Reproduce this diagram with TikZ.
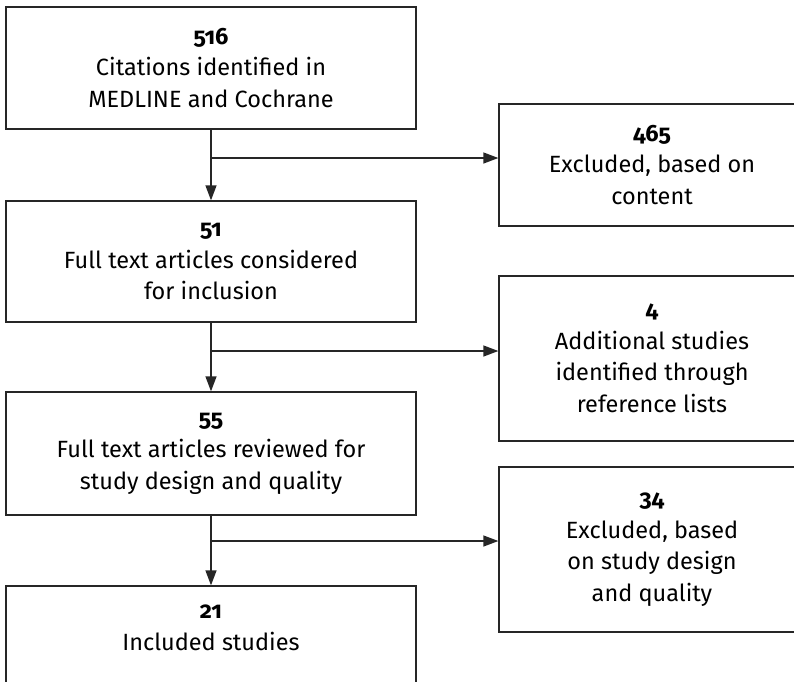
\documentclass[tikz,border=0pt]{standalone}
\usepackage{fontspec}
\setmainfont{Fira Sans}[Numbers=OldStyle]
\usetikzlibrary{arrows.meta}
\begin{document}
\begin{tikzpicture}[x=1pt,y=-1pt,
  box/.style={draw=black!85, line width=1.3pt, minimum width=410pt, minimum height=122pt,
    align=center, inner sep=0pt, font=\fontsize{23.5}{31.5}\selectfont},
  side/.style={box, minimum width=306pt},
  txt/.style={align=center, inner sep=0pt, font=\fontsize{23.5}{31.5}\selectfont},
  arr/.style={draw=black!85, line width=1.3pt, -{Triangle[length=15pt,width=11pt]}}]
\useasboundingbox (0,0) rectangle (794,681);
\clip (0,0) rectangle (794,681);
\node[box] (b1) at (211,68) {\textbf{516}\\Citations identified in\\MEDLINE and Cochrane};
\node[box, minimum height=121pt] (b2) at (211,261.5) {\textbf{51}\\Full text articles considered\\for inclusion};
\node[box, minimum height=123pt] (b3) at (211,453.5) {\textbf{55}\\Full text articles reviewed for\\study design and quality};
\node[box, minimum height=114pt] (b4) at (211,643) {};
\node[txt] (t4) at (211,628) {\textbf{21}\\Included studies};
\node[side] (r1) at (652,165) {\textbf{465}\\Excluded, based on\\content};
\node[side, minimum height=165pt] (r2) at (652,358.5) {\textbf{4}\\Additional studies\\identified through\\reference lists};
\node[side, minimum height=165pt] (r3) at (652,549.5) {\textbf{34}\\Excluded, based\\on study design\\and quality};
\coordinate (j1) at (212,158);
\coordinate (j2) at (212,351);
\coordinate (j3) at (212,541);
\draw[arr] (b1) -- (b2);
\draw[arr] (b2) -- (b3);
\draw[arr] (b3) -- (b4);
\draw[arr] (j1) -- (j1 -| r1.west);
\draw[arr] (j2) -- (j2 -| r2.west);
\draw[arr] (j3) -- (j3 -| r3.west);
\end{tikzpicture}
\end{document}
